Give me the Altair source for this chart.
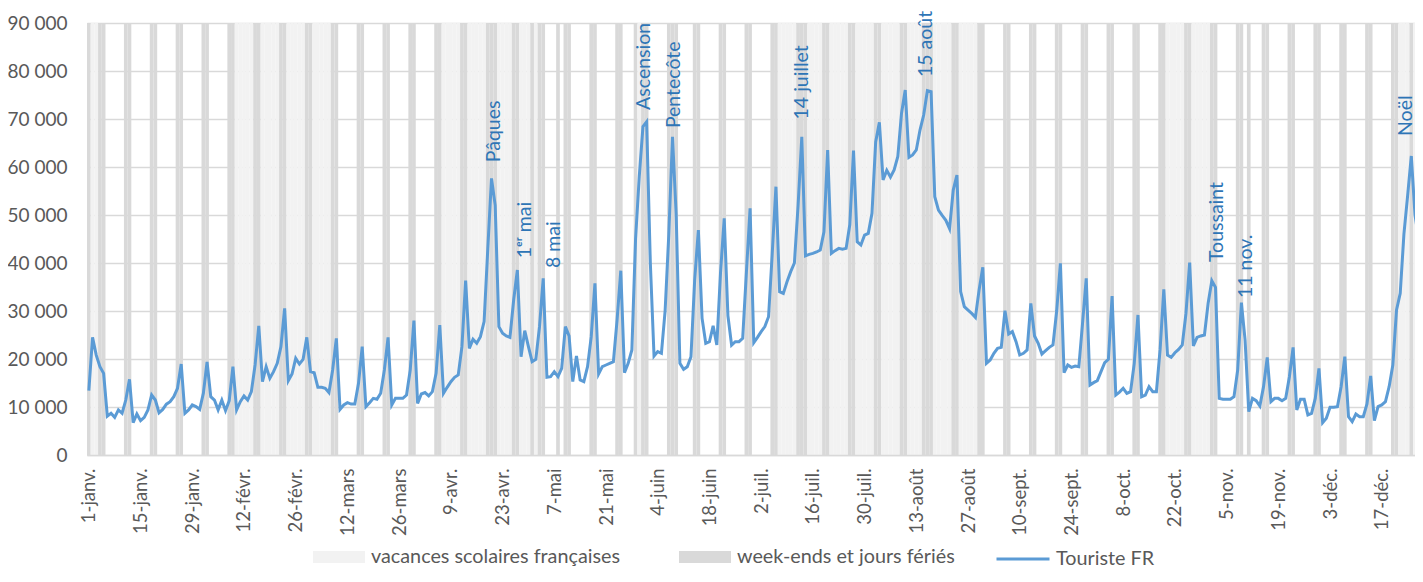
import datetime as dt
import altair as alt
import pandas as pd

YEAR = 2025

touriste_fr = [
    13400, 24500, 20800, 18400, 17000, 8100, 8700, 7850, 9400, 8700,
    11450, 15760, 6740, 8540, 7150, 7850, 9400, 12500, 11450, 8800,
    9500, 10600, 11100, 12150, 13900, 18960, 8700, 9400, 10420, 10070,
    9500, 12850, 19375, 12150, 11450, 9400, 11450, 9240, 11300, 18400,
    9400, 11100, 12300, 11450, 13200, 18750, 26900, 15280, 18400, 15970,
    17360, 19100, 22570, 30555, 15490, 16880, 20140, 18960, 19930, 24510,
    17360, 17150, 14100, 14100, 13900, 13000, 17700, 24300, 9500, 10420,
    10900, 10600, 10600, 14930, 22570, 10070, 10900, 11800, 11600, 12850,
    17700, 24510, 10420, 11800, 11800, 11800, 12500, 17700, 27990, 10760,
    12710, 13000, 12300, 13200, 17000, 27080, 12850, 14100, 15280, 16180,
    16670, 22570, 36320, 22220, 24100, 23270, 24650, 27780, 43000, 57640,
    52000, 26740, 25350, 24800, 24510, 32290, 38540, 20480, 25900, 22570,
    19440, 19930, 26740, 36800, 16180, 16320, 17360, 16320, 18050, 26740,
    24800, 15280, 20620, 15630, 15280, 18400, 24650, 35760, 16880, 18400,
    18750, 19100, 19440, 28130, 38400, 17150, 19100, 21880, 45000, 58000,
    68400, 69400, 40000, 20620, 21530, 21180, 30000, 46000, 66300, 50000,
    19100, 17850, 18400, 20480, 36460, 46875, 28500, 23270, 23600, 26900,
    22920, 38000, 49300, 29000, 22900, 23600, 23600, 24300, 38000, 51400,
    23400, 24500, 25700, 26740, 28800, 42000, 55900, 34030, 33680, 36100,
    38200, 40000, 52000, 66300, 41500, 41800, 42000, 42300, 42700, 46500,
    63540, 42000, 42570, 43050, 42850, 43050, 48000, 63400, 44440, 43750,
    45830, 46180, 50350, 65200, 69300, 57300, 59300, 57900, 59400, 62200,
    71200, 76040, 62000, 62500, 63540, 67700, 70830, 75900, 75700, 53800,
    51000, 49900, 48900, 47150, 55200, 58300, 34030, 30900, 30200, 29500,
    28680, 34400, 39100, 19100, 19800, 21180, 22220, 22430, 30070, 25200,
    25700, 23600, 20830, 21180, 21880, 31600, 24800, 23270, 21040, 21740,
    22430, 22920, 30000, 39930, 17150, 18750, 18260, 18540, 18400, 27430,
    36800, 14580, 15070, 15490, 17360, 19240, 19930, 33130, 12500, 13100,
    13900, 12850, 13200, 19100, 29170, 12150, 12500, 14240, 13200, 13200,
    22000, 34500, 20830, 20350, 21300, 22010, 22920, 29500, 40070, 22710,
    24510, 24800, 25000, 31600, 36320, 34930, 11800, 11600, 11600, 11600,
    12150, 17700, 31740, 24000, 9030, 11800, 11320, 10210, 14240, 20350,
    11110, 11800, 11800, 11320, 11800, 16320, 22430, 9380, 11600, 11600,
    8340, 8680, 11800, 18050, 6740, 7640, 9930, 9930, 10070, 14240,
    20480, 7990, 6950, 8540, 7990, 7990, 10630, 16460, 7150, 10070,
    10420, 11110, 14240, 18750, 30210, 33680, 46000, 54000, 62290, 50000,
    45000, 46500, 44000,
]

x_tick_labels = [
    "1-janv.", "15-janv.", "29-janv.", "12-févr.", "26-févr.", "12-mars",
    "26-mars", "9-avr.", "23-avr.", "7-mai", "21-mai", "4-juin", "18-juin",
    "2-juil.", "16-juil.", "30-juil.", "13-août", "27-août", "10-sept.",
    "24-sept.", "8-oct.", "22-oct.", "5-nov.", "19-nov.", "3-déc.", "17-déc.",
]

vacances = [
    ("2025-01-01", "2025-01-05"),
    ("2025-02-08", "2025-03-09"),
    ("2025-04-05", "2025-05-04"),
    ("2025-05-29", "2025-06-01"),
    ("2025-07-05", "2025-08-31"),
    ("2025-10-18", "2025-11-02"),
    ("2025-12-20", "2025-12-31"),
]
jours_feries = [
    "2025-01-01", "2025-04-21", "2025-05-01", "2025-05-08", "2025-05-29",
    "2025-06-09", "2025-07-14", "2025-08-15", "2025-11-01", "2025-11-11",
    "2025-12-25",
]

annot_labels = ["Pâques", "1ᵉʳ mai", "8 mai", "Ascension", "Pentecôte",
                "14 juillet", "15 août", "Toussaint", "11 nov.", "Noël"]
annot_days = [109.7, 118.2, 125.9, 150.3, 158.4, 193.0, 226.6, 305.4, 313.2, 356.6]
annot_values = [61000, 41000, 38960, 71900, 68100, 69900, 78750, 40200, 32700, 66460]

CAT_VAC = "vacances scolaires françaises"
CAT_WE = "week-ends et jours fériés"
SERIE = "Touriste FR"

# ---- tables built from the lists above ----
start = dt.date(YEAR, 1, 1)
feries = {dt.date.fromisoformat(s) for s in jours_feries}
vac_ranges = [(dt.date.fromisoformat(a), dt.date.fromisoformat(b)) for a, b in vacances]
band_rows = []
for d in range(365):
    day = start + dt.timedelta(days=d)
    if day.weekday() >= 5 or day in feries:
        band_rows.append({"day": d, "cat": CAT_WE})
    elif any(a <= day <= b for a, b in vac_ranges):
        band_rows.append({"day": d, "cat": CAT_VAC})
bands_df = pd.DataFrame(band_rows)

line_df = pd.DataFrame({"day": list(range(len(touriste_fr))),
                        "value": touriste_fr,
                        "serie": [SERIE] * len(touriste_fr)})
annot_df = pd.DataFrame({"day": annot_days, "value": annot_values,
                         "label": annot_labels})

FONT = "Lato"
LABEL_COLOR = "#595959"
GRID = "#D9D9D9"

x_scale = alt.Scale(domain=[-0.5, 359.0], nice=False, zero=False)
y_scale = alt.Scale(domain=[0, 90000], nice=False)

labels_js = "[" + ",".join("'" + s + "'" for s in x_tick_labels) + "]"
x_axis = alt.Axis(
    values=[14 * i for i in range(len(x_tick_labels))],
    labelExpr=labels_js + "[round(datum.value / 14)]",
    labelAngle=270, ticks=False, grid=False, labelPadding=13,
    domainColor=GRID, domainWidth=1.3, labelFontSize=18.5,
    labelColor=LABEL_COLOR, labelFont=FONT, title=None, zindex=1,
    labelOverlap=False,
)
y_axis = alt.Axis(
    values=list(range(0, 90001, 10000)),
    labelExpr="datum.value == 0 ? '0' : (datum.value / 1000) + ' 000'",
    ticks=False, domain=False, grid=True, gridColor=GRID, gridWidth=1.3,
    labelPadding=20, labelFontSize=19, labelColor=LABEL_COLOR,
    labelFont=FONT, title=None,
)

bands = alt.Chart(bands_df).transform_calculate(
    x0="datum.day - 0.5", x1="datum.day + 0.5", y0="0", y1="90000"
).mark_rect(clip=True, strokeWidth=0).encode(
    x=alt.X("x0:Q", scale=x_scale, axis=x_axis),
    x2="x1:Q",
    y=alt.Y("y0:Q", scale=y_scale, axis=y_axis),
    y2="y1:Q",
    fill=alt.Fill(
        "cat:N",
        scale=alt.Scale(domain=[CAT_VAC, CAT_WE], range=["#F2F2F2", "#D9D9D9"]),
        legend=alt.Legend(
            title=None, orient="none", legendX=226, legendY=508,
            direction="horizontal", symbolType="M-1,-0.23H1V0.23H-1Z",
            symbolSize=2704, symbolStrokeWidth=0, symbolOpacity=1,
            labelFontSize=19.8, labelColor=LABEL_COLOR, labelFont=FONT,
            columnPadding=58, labelOffset=6, labelLimit=500,
        ),
    ),
)

line = alt.Chart(line_df).mark_line(clip=True, strokeWidth=3).encode(
    x=alt.X("day:Q", scale=x_scale, axis=x_axis),
    y=alt.Y("value:Q", scale=y_scale, axis=y_axis),
    stroke=alt.Stroke(
        "serie:N",
        scale=alt.Scale(domain=[SERIE], range=["#5B9BD5"]),
        legend=alt.Legend(
            title=None, orient="none", legendX=908, legendY=508,
            symbolType="stroke", symbolSize=2809, symbolStrokeWidth=3,
            labelFontSize=19.8, labelColor=LABEL_COLOR, labelFont=FONT,
            labelOffset=5, labelLimit=500,
        ),
    ),
)

annots = alt.Chart(annot_df).mark_text(
    angle=270, align="left", baseline="middle", fontSize=19.5,
    color="#2E75B6", font=FONT,
).encode(
    x=alt.X("day:Q", scale=x_scale, axis=x_axis),
    y=alt.Y("value:Q", scale=y_scale, axis=y_axis),
    text="label:N",
)

chart = alt.layer(bands, line, annots).properties(
    width=1328, height=432,
    autosize=alt.AutoSizeParams(type="none"),
    padding={"left": 79, "top": 15, "right": 0, "bottom": 113},
).configure_view(stroke=None).configure(font=FONT, background="white")

chart.save("out.html", embed_options={"renderer": "svg", "actions": False})
